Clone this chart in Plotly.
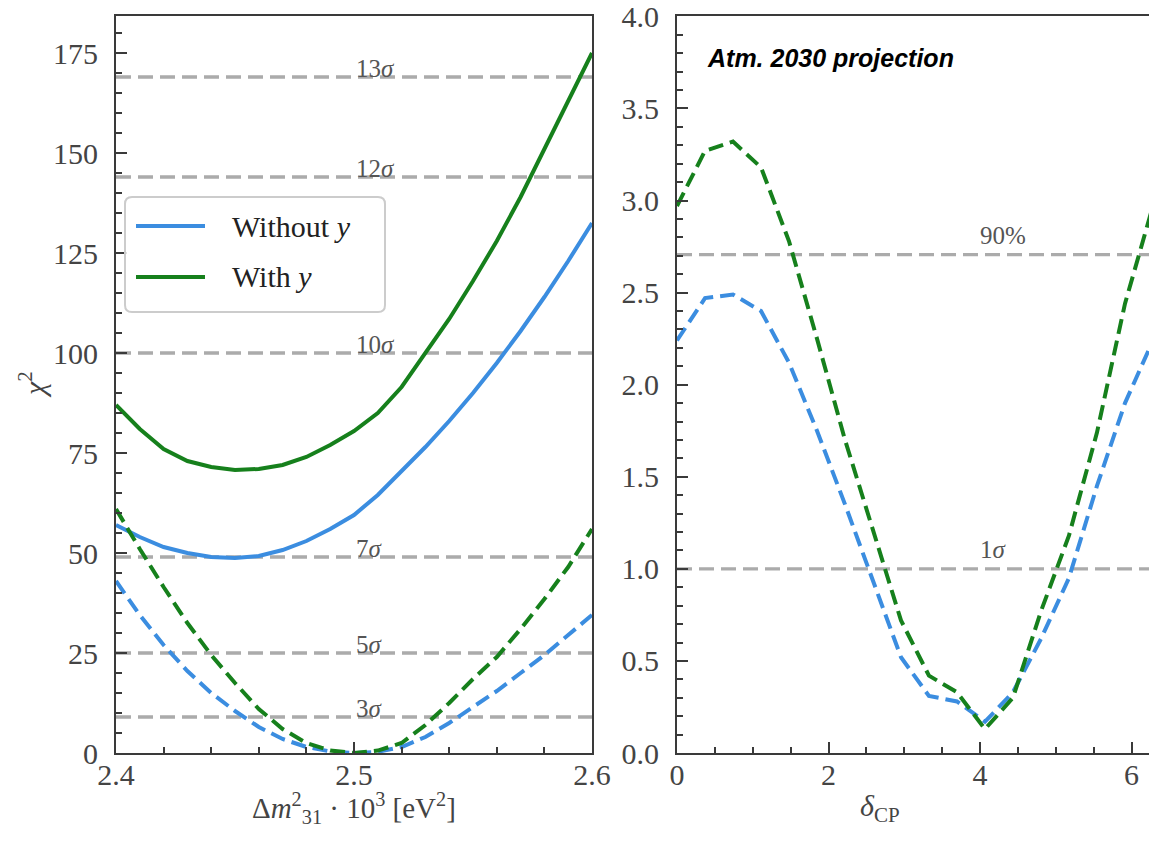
import plotly.graph_objects as go

W, H = 1149, 848

# ---------------- data ----------------
# Delta m^2_31 scan (x 10^-3 eV^2)
dm31 = [2.40, 2.41, 2.42, 2.43, 2.44, 2.45, 2.46, 2.47, 2.48, 2.49, 2.50,
        2.51, 2.52, 2.53, 2.54, 2.55, 2.56, 2.57, 2.58, 2.59, 2.60]
chi2_dm_without_y = [57, 54, 51.5, 50, 49, 48.75, 49.25, 50.75, 53, 56, 59.5,
                     64.5, 70.5, 76.5, 83, 90, 97.5, 105.5, 114, 123, 132.5]
chi2_dm_with_y = [87, 81, 76, 73, 71.5, 70.75, 71, 72, 74, 77, 80.5,
                  85, 91.5, 100, 108.5, 118, 128, 139, 151, 163, 175]
chi2_dm_without_y_proj = [43, 34.5, 27, 20.5, 15, 10.5, 6.5, 3.5, 1.5, 0.4, 0,
                          0.3, 1.5, 4, 7.5, 11.5, 15.5, 20, 24.5, 29.5, 34.5]
chi2_dm_with_y_proj = [61, 51, 41.5, 32.5, 24.5, 17.5, 11, 6, 2.5, 0.6, 0,
                       0.6, 2.5, 7, 12.5, 18.5, 24, 31, 38.5, 46.5, 56]

# delta_CP scan
dcp = [0.0, 0.370, 0.739, 1.109, 1.478, 1.848, 2.218, 2.587, 2.957,
       3.326, 3.696, 4.066, 4.435, 4.805, 5.174, 5.544, 5.914, 6.283]
chi2_dcp_without_y = [2.24, 2.47, 2.49, 2.40, 2.12, 1.75, 1.35, 0.94, 0.52,
                      0.31, 0.28, 0.17, 0.33, 0.62, 0.95, 1.45, 1.90, 2.24]
chi2_dcp_with_y = [2.97, 3.27, 3.32, 3.18, 2.78, 2.25, 1.70, 1.21, 0.72,
                   0.42, 0.33, 0.13, 0.30, 0.77, 1.18, 1.74, 2.44, 2.97]

# significance levels
sigma_levels_dm = [9, 25, 49, 100, 144, 169]
sigma_labels_dm = ["3<i>σ</i>", "5<i>σ</i>", "7<i>σ</i>", "10<i>σ</i>", "12<i>σ</i>", "13<i>σ</i>"]
levels_dcp = [1.0, 2.706]
labels_dcp = ["1<i>σ</i>", "90%"]

legend_names = ["Without <i>y</i>", "With <i>y</i>"]

# ---------------- style ----------------
BLUE = "#3b8de0"
GREEN = "#16801c"
REF_GRAY = "#ababab"
AXIS = "#3a3a3a"
TXT = "#444444"
SERIF = "Liberation Serif"

# panel placement (pixels)
L_X0, L_X1 = 116, 592
R_X0, R_X1 = 677, 1149
Y_TOP, Y_BOT = 16, 753


def px(x):
    return x / W


def py(y):
    return 1 - y / H


fig = go.Figure()

solid_w = 4
dash_w = 4
dash_pat = "15px,7px"

fig.add_trace(go.Scatter(x=dm31, y=chi2_dm_without_y, mode="lines",
                         line=dict(color=BLUE, width=solid_w),
                         xaxis="x", yaxis="y", showlegend=False))
fig.add_trace(go.Scatter(x=dm31, y=chi2_dm_with_y, mode="lines",
                         line=dict(color=GREEN, width=solid_w),
                         xaxis="x", yaxis="y", showlegend=False))
fig.add_trace(go.Scatter(x=dm31, y=chi2_dm_without_y_proj, mode="lines",
                         line=dict(color=BLUE, width=dash_w, dash=dash_pat),
                         xaxis="x", yaxis="y", showlegend=False))
fig.add_trace(go.Scatter(x=dm31, y=chi2_dm_with_y_proj, mode="lines",
                         line=dict(color=GREEN, width=dash_w, dash=dash_pat),
                         xaxis="x", yaxis="y", showlegend=False))

fig.add_trace(go.Scatter(x=dcp, y=chi2_dcp_without_y, mode="lines",
                         line=dict(color=BLUE, width=dash_w, dash=dash_pat),
                         xaxis="x2", yaxis="y2", showlegend=False))
fig.add_trace(go.Scatter(x=dcp, y=chi2_dcp_with_y, mode="lines",
                         line=dict(color=GREEN, width=dash_w, dash=dash_pat),
                         xaxis="x2", yaxis="y2", showlegend=False))

shapes = []
annotations = []

# horizontal reference levels with their labels
for lvl, lab in zip(sigma_levels_dm, sigma_labels_dm):
    shapes.append(dict(type="line", xref="x domain", yref="y", x0=0, x1=1,
                       y0=lvl, y1=lvl, layer="below",
                       line=dict(color=REF_GRAY, width=3.4, dash="15px,7px")))
    annotations.append(dict(x=2.5, y=lvl, xref="x", yref="y", text=lab,
                            xanchor="left", yanchor="bottom", yshift=-7,
                            showarrow=False,
                            font=dict(family=SERIF, size=25, color="#555555")))
for lvl, lab in zip(levels_dcp, labels_dcp):
    shapes.append(dict(type="line", xref="x2 domain", yref="y2", x0=0, x1=1,
                       y0=lvl, y1=lvl, layer="below",
                       line=dict(color=REF_GRAY, width=3.4, dash="15px,7px")))
    annotations.append(dict(x=3.97, y=lvl, xref="x2", yref="y2", text=lab,
                            xanchor="left", yanchor="bottom", yshift=4,
                            showarrow=False,
                            font=dict(family=SERIF, size=25, color="#555555")))

# legend box (rounded corners)
bx0, bx1, by0, by1, r = 125, 385, 197, 312, 7
path = (f"M {px(bx0 + r)},{py(by0)} L {px(bx1 - r)},{py(by0)} "
        f"Q {px(bx1)},{py(by0)} {px(bx1)},{py(by0 + r)} "
        f"L {px(bx1)},{py(by1 - r)} Q {px(bx1)},{py(by1)} {px(bx1 - r)},{py(by1)} "
        f"L {px(bx0 + r)},{py(by1)} Q {px(bx0)},{py(by1)} {px(bx0)},{py(by1 - r)} "
        f"L {px(bx0)},{py(by0 + r)} Q {px(bx0)},{py(by0)} {px(bx0 + r)},{py(by0)} Z")
shapes.append(dict(type="path", xref="paper", yref="paper", path=path,
                   fillcolor="rgba(255,255,255,0.85)",
                   line=dict(color="#cccccc", width=2)))
for yy, col, name in [(226, BLUE, legend_names[0]), (277, GREEN, legend_names[1])]:
    shapes.append(dict(type="line", xref="paper", yref="paper",
                       x0=px(136), x1=px(205), y0=py(yy), y1=py(yy),
                       line=dict(color=col, width=4)))
    annotations.append(dict(x=px(230), y=py(yy), xref="paper", yref="paper",
                            text=name, xanchor="left", yanchor="middle",
                            showarrow=False,
                            font=dict(family=SERIF, size=30, color="#222222")))

# panel heading
annotations.append(dict(x=px(705), y=py(58), xref="paper", yref="paper",
                        text="<b><i>Atm. 2030 projection</i></b>",
                        xanchor="left", yanchor="middle", showarrow=False,
                        font=dict(family="Liberation Sans", size=25, color="#000000")))

# axis titles
annotations.append(dict(x=px((L_X0 + L_X1) / 2), y=py(808), xref="paper", yref="paper",
                        text="Δ<i>m</i><sup>2</sup><sub>31</sub> · 10<sup>3</sup> [eV<sup>2</sup>]",
                        xanchor="center", yanchor="middle", showarrow=False,
                        font=dict(family=SERIF, size=29, color=TXT)))
annotations.append(dict(x=px(32), y=py(385), xref="paper", yref="paper",
                        text="<i>χ</i><sup>2</sup>", textangle=-90,
                        xanchor="center", yanchor="middle", showarrow=False,
                        font=dict(family=SERIF, size=30, color=TXT)))
annotations.append(dict(x=px(880), y=py(808), xref="paper", yref="paper",
                        text="<i>δ</i><sub>CP</sub>",
                        xanchor="center", yanchor="middle", showarrow=False,
                        font=dict(family=SERIF, size=30, color=TXT)))

tickfont = dict(family=SERIF, size=30, color=TXT)
axis_common = dict(showline=True, linecolor=AXIS, linewidth=2, ticks="inside",
                   ticklen=11, tickwidth=2, tickcolor=AXIS, showgrid=False,
                   zeroline=False, tickfont=tickfont, automargin=False)

fig.update_layout(
    width=W, height=H,
    margin=dict(l=0, r=0, t=0, b=0, autoexpand=False),
    paper_bgcolor="white", plot_bgcolor="white",
    showlegend=False,
    shapes=shapes, annotations=annotations,
    xaxis=dict(domain=[px(L_X0), px(L_X1)], range=[2.4, 2.6],
               tickvals=[2.4, 2.5, 2.6], ticktext=["2.4", "2.5", "2.6"],
               mirror=True, anchor="y", ticklabelstandoff=-6,
               minor=dict(dtick=0.02, ticks="inside", ticklen=6, tickwidth=2, tickcolor=AXIS),
               **axis_common),
    yaxis=dict(domain=[py(Y_BOT), py(Y_TOP)], range=[0, (Y_BOT - Y_TOP) / 4],
               dtick=25, tick0=0, mirror=True, anchor="x", ticklabelstandoff=10,
               minor=dict(dtick=5, ticks="inside", ticklen=6, tickwidth=2, tickcolor=AXIS),
               **axis_common),
    xaxis2=dict(domain=[px(R_X0), px(R_X1)], range=[0, (R_X1 - R_X0) / 75.75],
                dtick=2, tick0=0, mirror=True, anchor="y2", ticklabelstandoff=-6,
                minor=dict(dtick=0.5, ticks="inside", ticklen=6, tickwidth=2, tickcolor=AXIS),
                **axis_common),
    yaxis2=dict(domain=[py(Y_BOT), py(Y_TOP)], range=[0, 4.002],
                dtick=0.5, tick0=0, tickformat=".1f", mirror=False, anchor="x2",
                ticklabelstandoff=10, ticklabeloverflow="allow",
                minor=dict(dtick=0.1, ticks="inside", ticklen=6, tickwidth=2, tickcolor=AXIS),
                **axis_common),
)

fig.write_html("out.html")
